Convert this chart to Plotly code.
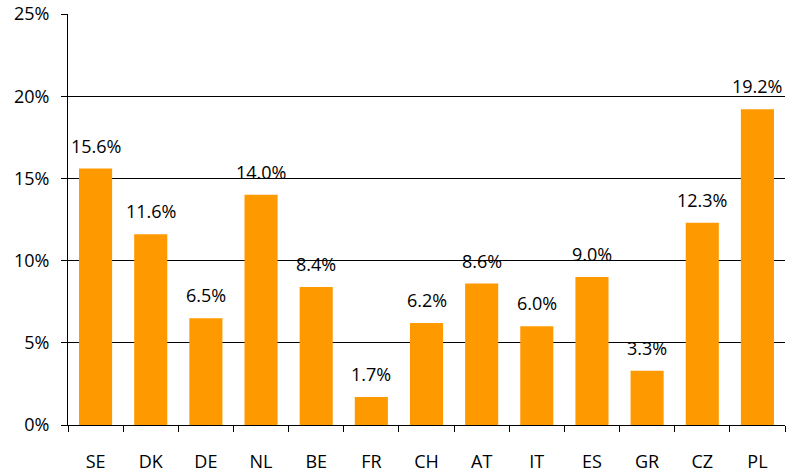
import plotly.graph_objects as go

countries = ["SE", "DK", "DE", "NL", "BE", "FR", "CH", "AT", "IT", "ES", "GR", "CZ", "PL"]
values = [15.6, 11.6, 6.5, 14.0, 8.4, 1.7, 6.2, 8.6, 6.0, 9.0, 3.3, 12.3, 19.2]
labels = [f"{v:.1f}%" for v in values]

FONT = "Open Sans, Liberation Sans, sans-serif"

fig = go.Figure()
fig.add_trace(go.Bar(
    x=countries, y=values, width=0.6,
    marker=dict(color="#FF9900", line=dict(width=0)),
    hoverinfo="skip",
))

for c, v, t in zip(countries, values, labels):
    fig.add_annotation(x=c, y=v, text=t, showarrow=False, yanchor="bottom",
                       yshift=9, font=dict(family=FONT, size=18, color="#000"))

fig.update_layout(
    template="none",
    width=787, height=473,
    margin=dict(l=68, r=2, t=14, b=48, autoexpand=False),
    paper_bgcolor="white", plot_bgcolor="white",
    showlegend=False, bargap=0.4,
    font=dict(family=FONT, size=18, color="#000"),
)
fig.update_xaxes(
    type="category", tickson="boundaries", ticks="outside", ticklen=6,
    tickcolor="#000", showline=True, linecolor="#000", linewidth=1,
    showgrid=False, automargin=False, ticklabelstandoff=20,
    tickfont=dict(family=FONT, size=18, color="#000"),
)
fig.update_yaxes(
    range=[0, 25], dtick=5, ticksuffix="%", ticks="outside", ticklen=6,
    tickcolor="#000", showline=True, linecolor="#000", linewidth=1,
    showgrid=True, gridcolor="#000", gridwidth=1, zeroline=False,
    automargin=False, ticklabelstandoff=8,
    tickfont=dict(family=FONT, size=18, color="#000"),
)

fig.write_html(
    "out.html",
    config={"displayModeBar": False, "staticPlot": True},
    post_script="document.body.style.margin='0';document.body.style.overflow='hidden';",
)
